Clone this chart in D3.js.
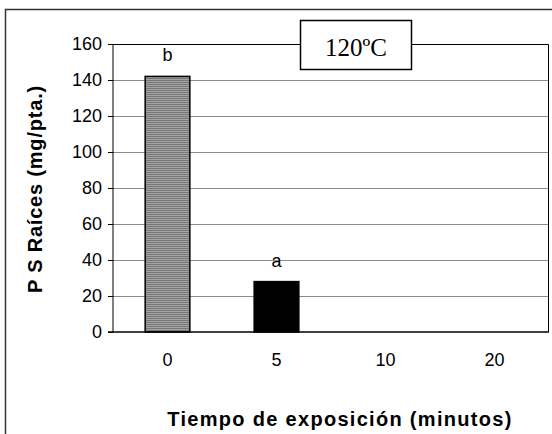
<!DOCTYPE html>
<html>
<head>
<meta charset="utf-8">
<script src="https://cdn.jsdelivr.net/npm/d3@7"></script>
<style>
  body { margin: 0; background: #fff; }
  svg { display: block; }
  .tick text { font-family: Arial, "Liberation Sans", sans-serif; }
</style>
</head>
<body>
<div id="chart"></div>
<script>
// data
var categories = ["0", "5", "10", "20"];
var values = [142, 28, 0, 0];
var letters = ["b", "a", "", ""];
var yTicks = [0, 20, 40, 60, 80, 100, 120, 140, 160];
var chartTitle = "120ºC";

var svgWidth = 552;
var svgHeight = 434;

var margin = { top: 44, right: 3, bottom: 102, left: 113 };
var width = svgWidth - margin.left - margin.right;
var height = svgHeight - margin.top - margin.bottom;

var svg = d3.select("#chart")
  .append("svg")
  .attr("width", svgWidth)
  .attr("height", svgHeight);

// striped fill for the first bar
var pat = svg.append("defs").append("pattern")
  .attr("id", "stripes")
  .attr("patternUnits", "userSpaceOnUse")
  .attr("width", 4)
  .attr("height", 2);
pat.append("rect").attr("width", 4).attr("height", 2).attr("fill", "#a4a4a4");
pat.append("rect").attr("width", 4).attr("height", 1).attr("fill", "#767676");

// outer frame
svg.append("rect")
  .attr("x", 5.5)
  .attr("y", 9.5)
  .attr("width", 580)
  .attr("height", 460)
  .attr("fill", "none")
  .attr("stroke", "#333")
  .attr("stroke-width", 1.5);

var chartGroup = svg.append("g")
  .attr("transform", `translate(${margin.left}, ${margin.top})`);

var xScale = d3.scaleBand()
  .domain(categories)
  .range([0, width])
  .paddingInner(0.59)
  .paddingOuter(0.295);

var yScale = d3.scaleLinear()
  .domain([0, 160])
  .range([height, 0]);

// gridlines
chartGroup.append("g")
  .selectAll("line")
  .data(yTicks.filter(d => d > 0 && d < 160))
  .enter()
  .append("line")
  .attr("x1", 0)
  .attr("x2", width)
  .attr("y1", d => yScale(d) + 0.5)
  .attr("y2", d => yScale(d) + 0.5)
  .attr("stroke", "#8c8c8c")
  .attr("stroke-width", 1);

// plot border top / right
chartGroup.append("path")
  .attr("d", `M0,${yScale(160) + 0.5}H${width - 0.5}V${height}`)
  .attr("fill", "none")
  .attr("stroke", "#000")
  .attr("stroke-width", 1);

// bars
chartGroup.selectAll(".bar")
  .data(values)
  .enter()
  .append("rect")
  .attr("class", "bar")
  .attr("x", (d, i) => xScale(categories[i]))
  .attr("y", d => yScale(d))
  .attr("width", xScale.bandwidth())
  .attr("height", d => height - yScale(d))
  .attr("fill", (d, i) => i === 0 ? "url(#stripes)" : "#000")
  .attr("stroke", "#000")
  .attr("stroke-width", 1.5)
  .style("display", d => d > 0 ? null : "none");

// significance letters
chartGroup.selectAll(".letter")
  .data(values)
  .enter()
  .append("text")
  .attr("class", "letter")
  .attr("x", (d, i) => xScale(categories[i]) + xScale.bandwidth() / 2)
  .attr("y", d => yScale(d) - 15)
  .attr("text-anchor", "middle")
  .style("font-family", "Arial, 'Liberation Sans', sans-serif")
  .style("font-size", "18px")
  .text((d, i) => letters[i]);

// axes
var leftAxis = d3.axisLeft(yScale)
  .tickValues(yTicks)
  .tickSize(5)
  .tickPadding(6)
  .tickFormat(d3.format("d"));

var bottomAxis = d3.axisBottom(xScale)
  .tickSize(0)
  .tickPadding(21);

var yAxisG = chartGroup.append("g").call(leftAxis);
yAxisG.select(".domain").attr("stroke", "#000").attr("d", `M0,${height}V0`);
yAxisG.selectAll(".tick text").style("font-size", "18px").attr("fill", "#000");

var xAxisG = chartGroup.append("g")
  .attr("transform", `translate(0, ${height})`)
  .call(bottomAxis);
xAxisG.select(".domain").attr("stroke", "#000").attr("stroke-width", 1.5).attr("d", `M-5,0H${width}`);
xAxisG.selectAll(".tick text").style("font-size", "18px").attr("fill", "#000");

// axis labels
svg.append("text")
  .attr("transform", "translate(42, 189) rotate(-90)")
  .attr("text-anchor", "middle")
  .style("font-family", "Arial, 'Liberation Sans', sans-serif")
  .style("font-weight", "bold")
  .style("font-size", "20px")
  .style("letter-spacing", "0.8px")
  .text("P S Raíces (mg/pta.)");

svg.append("text")
  .attr("x", 340)
  .attr("y", 426)
  .attr("text-anchor", "middle")
  .style("font-family", "Arial, 'Liberation Sans', sans-serif")
  .style("font-weight", "bold")
  .style("font-size", "20px")
  .style("letter-spacing", "1.3px")
  .text("Tiempo de exposición (minutos)");

// title box
svg.append("rect")
  .attr("x", 300.5)
  .attr("y", 20.5)
  .attr("width", 111)
  .attr("height", 49)
  .attr("fill", "#fff")
  .attr("stroke", "#000")
  .attr("stroke-width", 1.5);

svg.append("text")
  .attr("x", 356)
  .attr("y", 56)
  .attr("text-anchor", "middle")
  .style("font-family", "'Liberation Serif', 'Times New Roman', serif")
  .style("font-size", "25px")
  .text(chartTitle);
</script>
</body>
</html>
